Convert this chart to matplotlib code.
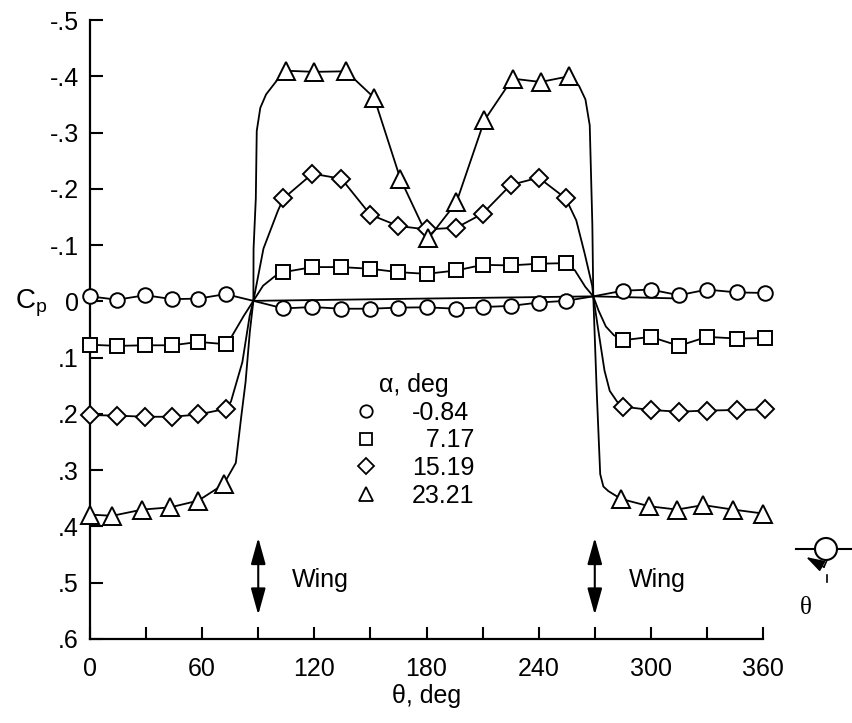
import numpy as np
import matplotlib.pyplot as plt
from matplotlib.lines import Line2D
from matplotlib.patches import Circle, FancyArrowPatch

plt.rcParams['font.family'] = ['Liberation Sans', 'DejaVu Sans']
plt.rcParams['mathtext.fontset'] = 'custom'
plt.rcParams['mathtext.rm'] = 'Liberation Sans'

# orifice angles, deg (wing sits at 90 and 270, no orifice there)
theta = [0, 14.5, 29.5, 44, 58, 72.5, 103.5, 119, 134.5, 150, 165, 180, 196, 210,
         225, 240, 254.5, 285, 300, 315, 330, 346, 361]
theta_tri = [0, 12, 28, 43, 58, 71.5, 105, 120, 137, 152, 166, 181, 196, 211,
             226, 241, 256, 284, 299, 314, 328, 344, 360]

# measured Cp for each alpha
cp_circ = [-0.009, -0.003, -0.011, -0.004, -0.005, -0.013,
           0.0125, 0.010, 0.013, 0.013, 0.011, 0.0105, 0.013, 0.010, 0.008, 0.002, -0.001,
           -0.019, -0.021, -0.011, -0.021, -0.016, -0.015]
cp_sq = [0.077, 0.079, 0.078, 0.078, 0.072, 0.076,
         -0.052, -0.061, -0.061, -0.058, -0.052, -0.049, -0.055, -0.065, -0.064, -0.067, -0.068,
         0.069, 0.063, 0.079, 0.063, 0.066, 0.065]
cp_dia = [0.202, 0.203, 0.205, 0.205, 0.201, 0.191,
          -0.183, -0.227, -0.218, -0.154, -0.134, -0.128, -0.131, -0.156, -0.207, -0.220, -0.183,
          0.187, 0.193, 0.196, 0.194, 0.193, 0.192]
cp_tri = [0.379, 0.381, 0.370, 0.366, 0.354, 0.325,
          -0.410, -0.408, -0.409, -0.362, -0.218, -0.112, -0.176, -0.322, -0.396, -0.390, -0.400,
          0.351, 0.364, 0.370, 0.362, 0.370, 0.377]

# faired curve through the wing junctions
circ_fair_th = [87.4, 269.2]
circ_fair_cp = [-0.001, -0.009]
sq_fair_th = [74.9, 82.2, 87.4, 92.6, 99.4, 259.4, 264.9, 269.2, 272.0, 275.9, 280.2]
sq_fair_cp = [0.0675, 0.026, -0.001, -0.028, -0.046, -0.055, -0.026, -0.009, 0.016, 0.0445, 0.060]
dia_fair_th = [75.4, 81.5, 85.4, 87.4, 92.8, 100.5, 260.1, 264.6, 268.6, 269.2, 271.6, 275.2, 278.0, 281.9]
dia_fair_cp = [0.178, 0.108, 0.026, -0.001, -0.094, -0.161, -0.144, -0.085, -0.028, -0.009, 0.045, 0.123, 0.159, 0.178]
tri_fair_th = [78.0, 80.9, 83.2, 85.5, 87.4, 87.5, 88.7, 89.2, 91.1, 94.2, 100.5,
               261.6, 265.0, 267.3, 268.7, 269.2, 271.1, 272.9, 274.6, 277.2]
tri_fair_cp = [0.287, 0.205, 0.144, 0.054, -0.001, -0.094, -0.183, -0.303, -0.344, -0.368, -0.395,
               -0.383, -0.359, -0.313, -0.136, -0.009, 0.165, 0.307, 0.329, 0.337]
# straight line joining the wing junctions
junc_th = [87.4, 269.2, 311.4]
junc_cp = [-0.001, -0.009, -0.0055]

alphas = ['-0.84', '\u20077.17', '15.19', '23.21']
markers = ['o', 's', 'D', '^']
msizes = [10.5, 10, 9.5, 12.5]

xticks = list(range(0, 361, 30))
xlabels = ['0', '', '60', '', '120', '', '180', '', '240', '', '300', '', '360']
yticks = [-0.5, -0.4, -0.3, -0.2, -0.1, 0, 0.1, 0.2, 0.3, 0.4, 0.5, 0.6]
ylabels = ['-.5', '-.4', '-.3', '-.2', '-.1', '0', '.1', '.2', '.3', '.4', '.5', '.6']

wing_theta = [90, 270]
wing_text_theta = [108, 288.5]

fs = 18

fig = plt.figure(figsize=(8.52, 7.23), dpi=100)
ax = fig.add_axes([0.1056, 0.1162, 0.790, 0.856])

series = [
    (theta, cp_circ, circ_fair_th, circ_fair_cp),
    (theta, cp_sq, sq_fair_th, sq_fair_cp),
    (theta, cp_dia, dia_fair_th, dia_fair_cp),
    (theta_tri, cp_tri, tri_fair_th, tri_fair_cp),
]

ax.plot(junc_th, junc_cp, color='k', lw=1.3, zorder=2)
for (th, cp, fth, fcp), m, ms in zip(series, markers, msizes):
    x = np.array(th + fth)
    y = np.array(cp + fcp)
    order = np.argsort(x, kind='stable')
    ax.plot(x[order], y[order], color='k', lw=1.3, zorder=2, clip_on=False)
    ax.plot(th, cp, ls='none', marker=m, ms=ms, mfc='white', mec='k', mew=1.4,
            zorder=3, clip_on=False)

ax.set_xlim(0, 360)
ax.set_ylim(0.6, -0.5)
ax.set_xticks(xticks)
ax.set_xticklabels(xlabels)
ax.set_yticks(yticks)
ax.set_yticklabels(ylabels)
ax.tick_params(direction='in', length=9, width=1.5, labelsize=fs)
ax.tick_params(axis='x', pad=13)
ax.tick_params(axis='y', pad=8)
for s in ['top', 'right']:
    ax.spines[s].set_visible(False)
for s in ['left', 'bottom']:
    ax.spines[s].set_linewidth(1.6)

ax.set_xlabel('\u03b8, deg', fontsize=fs, labelpad=2)
ax.set_ylabel(r'C$_{\mathregular{p}}$', fontsize=20, rotation=0, ha='center', va='center')
ax.yaxis.set_label_coords(-0.088, 0.542)

# legend
handles = [Line2D([], [], ls='none', marker=m, ms=ms * 0.85, mfc='white', mec='k', mew=1.3)
           for m, ms in zip(markers, msizes)]
leg = ax.legend(handles, alphas, title='\u03b1, deg', frameon=False, fontsize=fs,
                title_fontsize=fs, loc='upper left', bbox_to_anchor=(0.391, 0.43),
                handlelength=1.0, handletextpad=1.35, labelspacing=0.15, borderaxespad=0,
                borderpad=0)

# wing markers
for wt, tt in zip(wing_theta, wing_text_theta):
    ax.annotate('', xy=(wt, 0.42), xytext=(wt, 0.557),
                arrowprops=dict(arrowstyle='<|-|>,head_length=0.9,head_width=0.25',
                                color='k', lw=1.5, mutation_scale=18, shrinkA=0, shrinkB=0))
    ax.text(tt, 0.495, 'Wing', fontsize=fs, ha='left', va='center')

# fuselage / wing sketch with theta direction
tr = fig.dpi_scale_trans
fig.add_artist(Circle((8.26, 1.74), 0.11, transform=tr, fill=False, ec='k', lw=1.5))
fig.add_artist(Line2D([7.96, 8.15], [1.74, 1.74], transform=tr, color='k', lw=1.5))
fig.add_artist(Line2D([8.37, 8.52], [1.74, 1.74], transform=tr, color='k', lw=1.5))
fig.add_artist(Line2D([8.27, 8.24], [1.63, 1.56], transform=tr, color='k', lw=1.2))
fig.add_artist(FancyArrowPatch((8.24, 1.56), (8.06, 1.66), transform=tr,
                               arrowstyle='-|>,head_length=0.8,head_width=0.25',
                               mutation_scale=14, color='k', lw=1.2,
                               shrinkA=0, shrinkB=0))
fig.add_artist(Line2D([8.265, 8.265], [1.48, 1.41], transform=tr, color='k', lw=1.2))
fig.text(8.06 / 8.52, 1.15 / 7.23, '\u03b8', fontsize=18, ha='center', va='center',
         family=['Liberation Serif', 'DejaVu Serif'])

fig.savefig('out.png', dpi=100)
